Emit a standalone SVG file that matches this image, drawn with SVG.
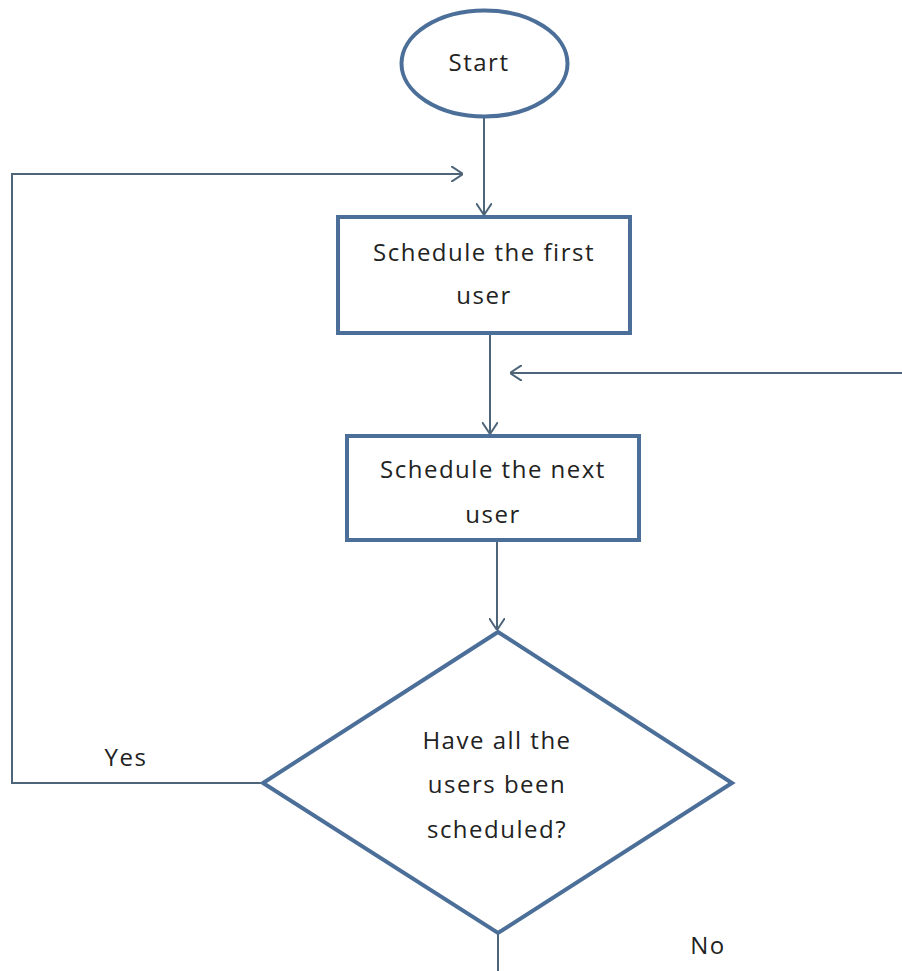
<svg xmlns="http://www.w3.org/2000/svg" width="902" height="971" viewBox="0 0 902 971">
<defs>
<style>
.node{fill:#ffffff;stroke:#4b6f98;stroke-width:4}
.conn{fill:none;stroke:#4e6478;stroke-width:2}
.lbl{font-family:"Open Sans","Liberation Sans",sans-serif;font-size:24px;fill:#222222;letter-spacing:1.5px;text-anchor:middle}
</style>
<marker id="arr" viewBox="0 0 12 16" refX="12" refY="8" markerWidth="12" markerHeight="16" markerUnits="userSpaceOnUse" orient="auto">
<path d="M0,0 L12,8 L0,16" fill="none" stroke="#4e6478" stroke-width="2"/>
</marker>
</defs>
<rect width="902" height="971" fill="#ffffff"/>
<g id="connectors">
<line class="conn" x1="484" y1="118" x2="484" y2="215" marker-end="url(#arr)"/>
<polyline class="conn" points="263,783 12,783 12,174 463,174" marker-end="url(#arr)"/>
<line class="conn" x1="490" y1="334" x2="490" y2="434" marker-end="url(#arr)"/>
<line class="conn" x1="902" y1="373" x2="510" y2="373" marker-end="url(#arr)"/>
<line class="conn" x1="497" y1="541" x2="497" y2="630" marker-end="url(#arr)"/>
<line class="conn" x1="498" y1="933" x2="498" y2="971"/>
</g>
<g id="start">
<ellipse class="node" cx="484.5" cy="63.5" rx="83" ry="53"/>
<text class="lbl" x="479" y="71">Start</text>
</g>
<g id="schedule-first">
<rect class="node" x="338" y="217" width="292" height="116"/>
<text class="lbl" x="484" y="261">Schedule the first</text>
<text class="lbl" x="484" y="304">user</text>
</g>
<g id="schedule-next">
<rect class="node" x="347" y="436" width="292" height="104"/>
<text class="lbl" x="493" y="478">Schedule the next</text>
<text class="lbl" x="493" y="523">user</text>
</g>
<g id="decision">
<polygon class="node" points="498,632 732,783 498,933 263,783"/>
<text class="lbl" x="497" y="749">Have all the</text>
<text class="lbl" x="497" y="793">users been</text>
<text class="lbl" x="497" y="838">scheduled?</text>
</g>
<g id="labels">
<text class="lbl" x="126" y="766">Yes</text>
<text class="lbl" x="708" y="954">No</text>
</g>
</svg>
